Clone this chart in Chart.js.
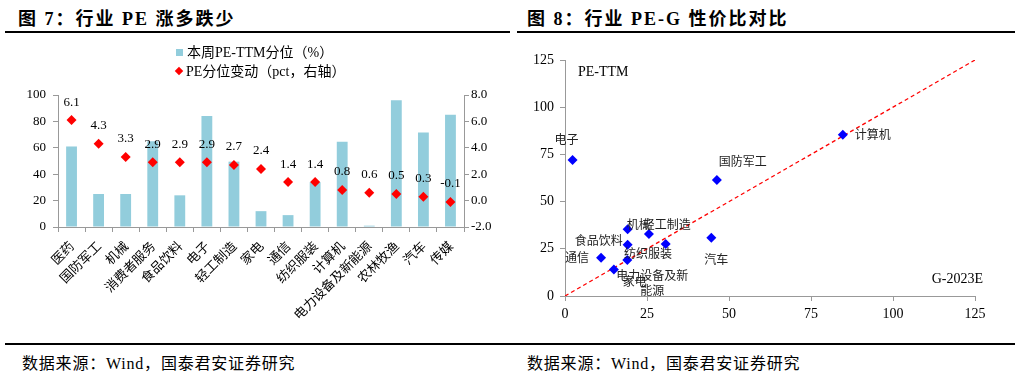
<!DOCTYPE html>
<html lang="zh">
<head>
<meta charset="utf-8">
<script src="https://cdn.jsdelivr.net/npm/chart.js@4.4.0/dist/chart.umd.min.js"></script>
<style>
  body { margin:0; width:1020px; height:375px; background:#fff; position:relative; overflow:hidden;
         font-family:"Liberation Serif","Noto Sans CJK SC",serif; color:#000; }
  .title { position:absolute; top:4px; font-size:18px; font-weight:bold; white-space:nowrap; letter-spacing:2px; }
  .rule { position:absolute; height:2px; background:#000; }
  .src { position:absolute; top:350px; font-size:16px; white-space:nowrap; letter-spacing:0.8px; }
  .legend { position:absolute; font-size:14px; white-space:nowrap; line-height:18px; z-index:2; }
  .sq { display:inline-block; width:7px; height:7px; background:#92CDDC; margin-right:4px; vertical-align:1px; }
  .dm { display:inline-block; width:6px; height:6px; background:#FF0000; transform:rotate(45deg); margin:0 4px 0 1px; vertical-align:2px; }
  canvas { position:absolute; }
</style>
</head>
<body>
<div class="title" style="left:18px">图 7：行业 PE 涨多跌少</div>
<div class="rule" style="left:5px; width:505px; top:31px"></div>
<div class="title" style="left:527px">图 8：行业 PE-G 性价比对比</div>
<div class="rule" style="left:517px; width:498px; top:31px"></div>

<canvas id="leftChart" width="510" height="295" style="left:0; top:40px"></canvas>
<canvas id="rightChart" width="510" height="295" style="left:510px; top:40px"></canvas>

<div class="legend" style="left:176px; top:44px"><span class="sq"></span>本周PE-TTM分位（%）</div>
<div class="legend" style="left:175px; top:63px"><span class="dm"></span>PE分位变动（pct，右轴）</div>

<div class="rule" style="left:5px; width:1010px; top:343px; height:1.5px"></div>
<div class="src" style="left:22px">数据来源：Wind，国泰君安证券研究</div>
<div class="src" style="left:527px">数据来源：Wind，国泰君安证券研究</div>

<script>
// 图7 data
const industries = ['医药', '国防军工', '机械', '消费者服务', '食品饮料', '电子', '轻工制造', '家电',
  '通信', '纺织服装', '计算机', '电力设备及新能源', '农林牧渔', '汽车', '传媒'];
const pePercentile = [61, 25, 25, 65, 24, 84, 49.5, 12, 9, 34, 64.5, 1, 96, 71.5, 85];
const percentileChange = [6.1, 4.3, 3.3, 2.9, 2.9, 2.9, 2.7, 2.4, 1.4, 1.4, 0.8, 0.6, 0.5, 0.3, -0.1];

// 图8 data
const pegNames = ['电子', '国防军工', '计算机', '汽车', '机械', '纺织服装', '轻工制造', '食品饮料',
  '通信', '电力设备及新能源', '家电'];
const growth2023 = [2.3, 46.3, 84.7, 44.6, 19.1, 25.6, 30.7, 19.1, 11.0, 19.0, 14.9];
const peTTM = [72.0, 61.4, 85.4, 30.9, 35.3, 32.8, 27.5, 27.2, 20.3, 19.1, 14.1];
const fitLine = [[0, 0], [125, 125]];

const serif = '"Liberation Serif", "Noto Sans CJK SC", serif';
const axisGray = '#999';

// label offsets (px) for scatter names, relative to the marker
const labelOffsets = [[-6, -21], [26, -19], [30, 0], [5, 22], [11, -5], [-1, 19], [1, -20],
  [-29, -4], [-24, 0], [25, 15], [21, 12]];

const changeLabels = {
  id: 'changeLabels',
  afterDatasetsDraw(chart) {
    const ctx = chart.ctx;
    const meta = chart.getDatasetMeta(1);
    ctx.save();
    ctx.font = '13px ' + serif;
    ctx.fillStyle = '#000';
    ctx.textAlign = 'center';
    ctx.textBaseline = 'middle';
    meta.data.forEach((pt, i) => {
      ctx.fillText(percentileChange[i].toFixed(1), pt.x, pt.y - 18);
    });
    ctx.restore();
  }
};

new Chart(document.getElementById('leftChart'), {
  type: 'bar',
  data: {
    labels: industries,
    datasets: [{
      label: '本周PE-TTM分位（%）',
      data: pePercentile,
      backgroundColor: '#92CDDC',
      barPercentage: 0.5,
      categoryPercentage: 0.8,
      yAxisID: 'y',
      order: 2
    }, {
      type: 'line',
      label: 'PE分位变动（pct，右轴）',
      data: percentileChange,
      showLine: false,
      pointStyle: 'rectRot',
      pointRadius: 5,
      pointBackgroundColor: '#FF0000',
      pointBorderColor: '#FF0000',
      pointBorderWidth: 0,
      yAxisID: 'y1',
      order: 1
    }]
  },
  options: {
    responsive: false,
    animation: false,
    layout: { padding: { top: 55 } },
    plugins: { legend: { display: false }, tooltip: { enabled: false } },
    scales: {
      x: {
        grid: { offset: true, drawOnChartArea: false, tickLength: 5, color: axisGray },
        border: { color: axisGray },
        ticks: { minRotation: 45, maxRotation: 45, autoSkip: false, padding: 6, color: '#000',
          font: { family: '"Noto Sans CJK SC"', size: 13 } },
        afterFit(scale) { scale.height = 108; }
      },
      y: {
        position: 'left',
        min: 0, max: 100,
        grid: { drawOnChartArea: false, tickLength: 5, color: axisGray },
        border: { color: axisGray },
        ticks: { stepSize: 20, padding: 7, color: '#000', font: { family: serif, size: 13 } },
        afterFit(scale) { scale.width = 58; }
      },
      y1: {
        position: 'right',
        min: -2, max: 8,
        grid: { drawOnChartArea: false, tickLength: 5, color: axisGray },
        border: { color: axisGray },
        ticks: { stepSize: 2, padding: 2, color: '#000', font: { family: serif, size: 13 },
          callback: v => v.toFixed(1) },
        afterFit(scale) { scale.width = 46; }
      }
    }
  },
  plugins: [changeLabels]
});

const scatterText = {
  id: 'scatterText',
  afterDatasetsDraw(chart) {
    const ctx = chart.ctx;
    const area = chart.chartArea;
    const meta = chart.getDatasetMeta(1);
    ctx.save();
    ctx.fillStyle = '#000';
    ctx.textBaseline = 'middle';
    ctx.font = '14px ' + serif;
    ctx.textAlign = 'left';
    ctx.fillText('PE-TTM', area.left + 13, area.top + 12);
    ctx.textAlign = 'right';
    ctx.fillText('G-2023E', area.right + 8, area.bottom - 17);
    ctx.font = '12px "Noto Sans CJK SC"';
    ctx.fillStyle = '#222';
    ctx.textAlign = 'center';
    meta.data.forEach((pt, i) => {
      const [dx, dy] = labelOffsets[i];
      const name = pegNames[i];
      if (name.length > 6) {
        ctx.fillText(name.slice(0, 6), pt.x + dx, pt.y + dy);
        ctx.fillText(name.slice(6), pt.x + dx, pt.y + dy + 15);
      } else {
        ctx.fillText(name, pt.x + dx, pt.y + dy);
      }
    });
    ctx.restore();
  }
};

new Chart(document.getElementById('rightChart'), {
  type: 'scatter',
  data: {
    datasets: [{
      type: 'line',
      data: fitLine.map(p => ({ x: p[0], y: p[1] })),
      borderColor: '#FF0000',
      borderWidth: 1.3,
      borderDash: [4, 3],
      pointRadius: 0,
      order: 2
    }, {
      data: growth2023.map((g, i) => ({ x: g, y: peTTM[i] })),
      pointStyle: 'rectRot',
      pointRadius: 5,
      pointBackgroundColor: '#0000FF',
      pointBorderColor: '#0000FF',
      pointBorderWidth: 0,
      order: 1
    }]
  },
  options: {
    responsive: false,
    animation: false,
    layout: { padding: { top: 20, right: 45 } },
    plugins: { legend: { display: false }, tooltip: { enabled: false } },
    scales: {
      x: {
        type: 'linear',
        min: 0, max: 125,
        grid: { drawOnChartArea: false, tickLength: 5, color: axisGray },
        border: { color: axisGray },
        ticks: { stepSize: 25, padding: 5, color: '#000', font: { family: serif, size: 14 } },
        afterFit(scale) { scale.height = 39; }
      },
      y: {
        min: 0, max: 125,
        grid: { drawOnChartArea: false, tickLength: 5, color: axisGray },
        border: { color: axisGray },
        ticks: { stepSize: 25, padding: 6, color: '#000', font: { family: serif, size: 14 } },
        afterFit(scale) { scale.width = 55; }
      }
    }
  },
  plugins: [scatterText]
});
</script>
</body>
</html>
